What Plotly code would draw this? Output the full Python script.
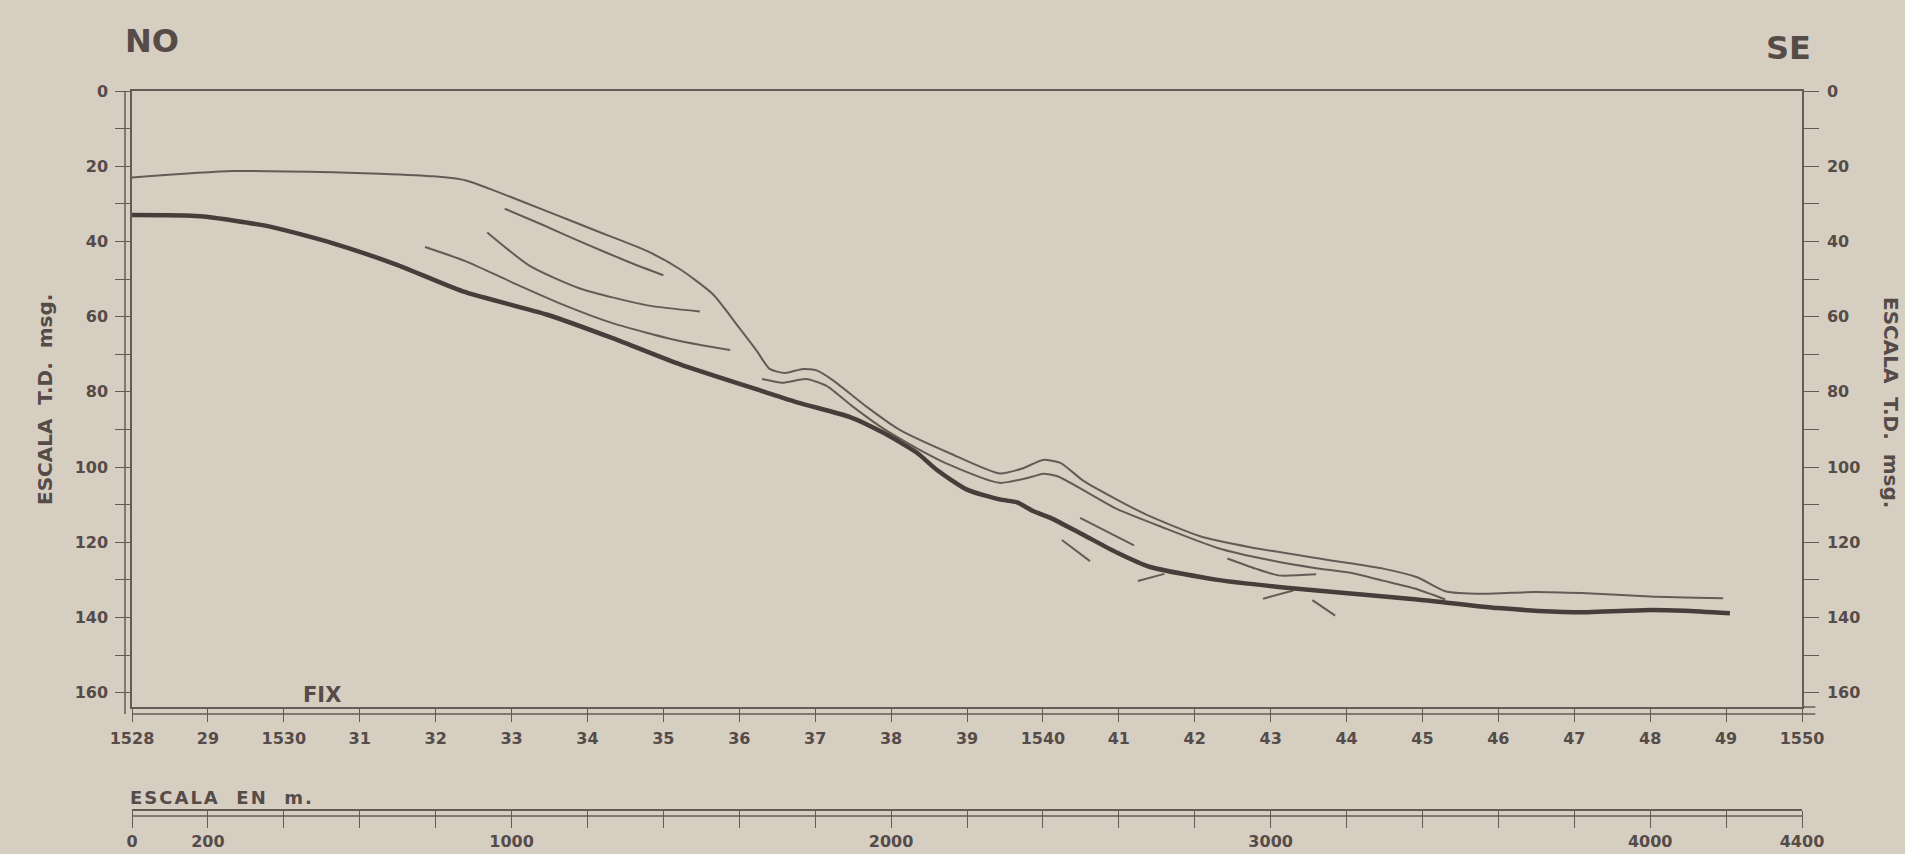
import plotly.graph_objects as go

# Shot-point (fix) numbers along the profile and their printed labels
fix_ticks = list(range(1528, 1551))
fix_labels = ["1528", "29", "1530", "31", "32", "33", "34", "35", "36", "37", "38",
              "39", "1540", "41", "42", "43", "44", "45", "46", "47", "48", "49", "1550"]

# Two-way time scale (ms)
td_ticks = list(range(0, 161, 20))

# Distance scale in metres
meter_ticks = list(range(0, 4401, 200))
meter_shown = {0: "0", 200: "200", 1000: "1000", 2000: "2000",
               3000: "3000", 4000: "4000", 4400: "4400"}
meter_labels = [meter_shown.get(v, "") for v in meter_ticks]

# Sea floor
floor_fix = [1528.0, 1529.33, 1530.65, 1531.27, 1531.97, 1532.4, 1532.8, 1533.47,
             1534.13, 1534.79, 1535.22, 1535.65, 1536.0, 1536.23, 1536.4, 1536.6,
             1536.84, 1537.02, 1537.24, 1537.68, 1538.12, 1538.78, 1539.43, 1539.74,
             1540.0, 1540.23, 1540.53, 1540.98, 1541.4, 1542.07, 1542.73, 1543.6,
             1544.05, 1544.48, 1544.93, 1545.3, 1545.8, 1546.46, 1547.1, 1548.0, 1548.96]
floor_ms = [23.0, 21.3, 21.6, 22.0, 22.7, 23.8, 26.7, 32.0,
            37.3, 42.6, 47.4, 54.0, 63.0, 69.1, 73.9, 75.0,
            73.9, 74.3, 77.0, 84.0, 90.2, 96.4, 101.7, 100.3,
            98.1, 98.9, 103.6, 108.7, 113.0, 118.4, 121.3, 124.2,
            125.6, 127.0, 129.3, 133.0, 133.7, 133.2, 133.5, 134.4, 134.9]

# Reflector just below the sea floor
sub_fix = [1536.3, 1536.57, 1536.88, 1537.15, 1537.5, 1537.9, 1538.34, 1538.78,
           1539.43, 1539.87, 1540.0, 1540.2, 1540.98, 1541.64, 1542.3, 1543.0,
           1543.6, 1544.05, 1544.48, 1544.9, 1545.3]
sub_ms = [76.6, 77.6, 76.6, 78.4, 84.0, 89.8, 95.0, 99.5,
          104.2, 102.5, 101.8, 102.5, 111.2, 116.5, 121.5, 124.8,
          126.9, 128.1, 130.2, 132.3, 135.2]

# Acoustic basement (heavy line)
base_fix = [1528.0, 1528.9, 1529.8, 1530.65, 1531.5, 1532.36, 1533.47, 1534.34,
            1535.22, 1536.3, 1536.8, 1537.46, 1537.9, 1538.34, 1538.6, 1539.0,
            1539.43, 1539.66, 1539.87, 1540.1, 1540.53, 1540.98, 1541.4, 1542.3,
            1543.17, 1544.05, 1544.93, 1546.0, 1547.0, 1548.0, 1548.45, 1549.05]
base_ms = [33.0, 33.3, 36.0, 40.5, 46.3, 53.3, 59.5, 65.8,
           72.7, 79.8, 83.0, 86.7, 90.9, 96.2, 100.7, 106.0,
           108.6, 109.4, 111.7, 113.5, 118.0, 122.8, 126.5, 130.0,
           132.0, 133.6, 135.2, 137.5, 138.6, 138.0, 138.2, 138.9]

# Short internal reflector segments
seg_a_fix = [1532.91, 1533.4, 1533.9, 1534.56, 1535.0]
seg_a_ms = [31.3, 35.5, 40.0, 45.6, 49.0]
seg_b_fix = [1532.68, 1533.24, 1533.9, 1534.79, 1535.48]
seg_b_ms = [37.6, 46.5, 52.5, 57.0, 58.6]
seg_c_fix = [1531.86, 1532.4, 1533.02, 1533.7, 1534.34, 1535.22, 1535.88]
seg_c_ms = [41.5, 45.3, 51.0, 57.0, 61.8, 66.5, 68.9]
seg_d_fix = [1540.49, 1541.2]
seg_d_ms = [113.5, 120.8]
seg_e_fix = [1540.25, 1540.62]
seg_e_ms = [119.4, 125.0]
seg_f_fix = [1541.25, 1541.6]
seg_f_ms = [130.3, 128.4]
seg_g_fix = [1542.43, 1542.8, 1543.1, 1543.6]
seg_g_ms = [124.3, 127.0, 128.8, 128.5]
seg_h_fix = [1542.9, 1543.3]
seg_h_ms = [135.0, 132.8]
seg_i_fix = [1543.55, 1543.85]
seg_i_ms = [135.4, 139.5]

segments = [(seg_a_fix, seg_a_ms), (seg_b_fix, seg_b_ms), (seg_c_fix, seg_c_ms),
            (seg_d_fix, seg_d_ms), (seg_e_fix, seg_e_ms), (seg_f_fix, seg_f_ms),
            (seg_g_fix, seg_g_ms), (seg_h_fix, seg_h_ms), (seg_i_fix, seg_i_ms)]

PAPER = "#d7cec2"
INK = "#554b48"
THIN = "#655b56"
HEAVY = "#473d3a"
FONT = "DejaVu Sans"

W, H = 1905, 854
ML, MR, MT, MB = 132, 103, 91, 45
Y_BOTTOM = 163.8          # time value at the lower edge of the section
AXIS_PX = 707             # pixel row of the fix axis
plot_h = H - MT - MB
plot_w = W - ML - MR
MAIN_LOW = (H - MB - AXIS_PX) / plot_h

fig = go.Figure()

thin_line = dict(color=THIN, width=2, shape="spline", smoothing=0.6)
for fx, ms in segments:
    fig.add_trace(go.Scatter(x=fx, y=ms, mode="lines", line=thin_line,
                             hoverinfo="skip", showlegend=False))

fig.add_trace(go.Scatter(x=floor_fix, y=floor_ms, mode="lines", line=thin_line, showlegend=False))
fig.add_trace(go.Scatter(x=sub_fix, y=sub_ms, mode="lines", line=thin_line, showlegend=False))
fig.add_trace(go.Scatter(x=base_fix, y=base_ms, mode="lines",
                         line=dict(color=HEAVY, width=4.5, shape="spline", smoothing=0.6),
                         showlegend=False))

# Invisible trace that carries the right-hand time axis
fig.add_trace(go.Scatter(x=[1528], y=[0], yaxis="y3", mode="markers",
                         marker=dict(opacity=0), hoverinfo="skip", showlegend=False))
# Invisible trace that carries the metre scale bar
fig.add_trace(go.Scatter(x=[0], y=[0], xaxis="x2", yaxis="y2", mode="markers",
                         marker=dict(opacity=0), hoverinfo="skip", showlegend=False))

tick_font = dict(family=FONT, size=16, color=INK, weight="bold")
axis_common = dict(showgrid=False, zeroline=False, showline=True, automargin=False,
                   linecolor=THIN, linewidth=1.5, tickcolor=THIN, tickwidth=1.3,
                   ticks="outside", tickfont=tick_font)

fig.update_layout(
    width=W, height=H,
    margin=dict(l=ML, r=MR, t=MT, b=MB),
    paper_bgcolor=PAPER, plot_bgcolor=PAPER,
    font=dict(family=FONT, color=INK),
    xaxis=dict(range=[1528, 1550], domain=[0, 1], anchor="y",
               tickvals=fix_ticks, ticktext=fix_labels,
               ticklen=13, mirror=True, ticklabelstandoff=3, **axis_common),
    yaxis=dict(range=[Y_BOTTOM, 0], domain=[MAIN_LOW, 1], anchor="x",
               tickvals=td_ticks, ticklen=15, ticklabelstandoff=4,
               minor=dict(dtick=10, tick0=0, ticks="outside", ticklen=15,
                          tickcolor=THIN, tickwidth=1.3),
               **axis_common),
    yaxis3=dict(range=[Y_BOTTOM, 0], overlaying="y", side="right", anchor="x",
                tickvals=td_ticks, ticklen=15, ticklabelstandoff=5,
                minor=dict(dtick=10, tick0=0, ticks="outside", ticklen=15,
                           tickcolor=THIN, tickwidth=1.3),
                **axis_common),
    xaxis2=dict(range=[0, 4400], domain=[0, 1], anchor="y2",
                tickvals=meter_ticks, ticktext=meter_labels,
                ticklen=17, ticklabelstandoff=0, **axis_common),
    yaxis2=dict(domain=[0, 0.001], range=[0, 1], visible=False, anchor="x2",
                automargin=False),
)

line_style = dict(color=THIN, width=1.5)
fig.update_layout(shapes=[
    # double line under the fix axis, running slightly past the right border
    dict(type="line", xref="paper", x0=0, x1=1.008, yref="y domain", ysizemode="pixel",
         yanchor=0, y0=-7, y1=-7, line=line_style),
    dict(type="line", xref="paper", x0=1, x1=1.008, yref="y domain", ysizemode="pixel",
         yanchor=0, y0=0, y1=0, line=line_style),
    # double line beside the left time axis
    dict(type="line", xref="x domain", xsizemode="pixel", xanchor=0, x0=-7, x1=-7,
         yref="y domain", y0=-0.0114, y1=1, line=line_style),
    # double line of the metre scale bar
    dict(type="line", xref="paper", x0=0, x1=1, yref="y2 domain", ysizemode="pixel",
         yanchor=0, y0=-7, y1=-7, line=line_style),
])


def px_x(px):
    return (px - ML) / plot_w


def px_y(py):
    return (H - MB - py) / plot_h


def label(text, x, y, size, angle=0, xref="paper", yref="paper", xanchor="center"):
    fig.add_annotation(text=text, xref=xref, yref=yref, x=x, y=y, textangle=angle,
                       xanchor=xanchor, yanchor="middle", showarrow=False,
                       font=dict(family=FONT, size=size, color=INK, weight="bold"))


label("NO", px_x(152), px_y(41), 32)
label("SE", px_x(1788), px_y(48), 32)
label("ESCALA  T.D.  msg.", px_x(45), px_y(400), 20, angle=-90)
label("ESCALA  T.D.  msg.", px_x(1891), px_y(402), 20, angle=90)
label("FIX", 1530.5, 160.6, 21, xref="x", yref="y")
label('<span style="letter-spacing:2px">ESCALA  EN  m.</span>', px_x(128), px_y(797), 18,
      xanchor="left")

fig.write_html("out.html")
